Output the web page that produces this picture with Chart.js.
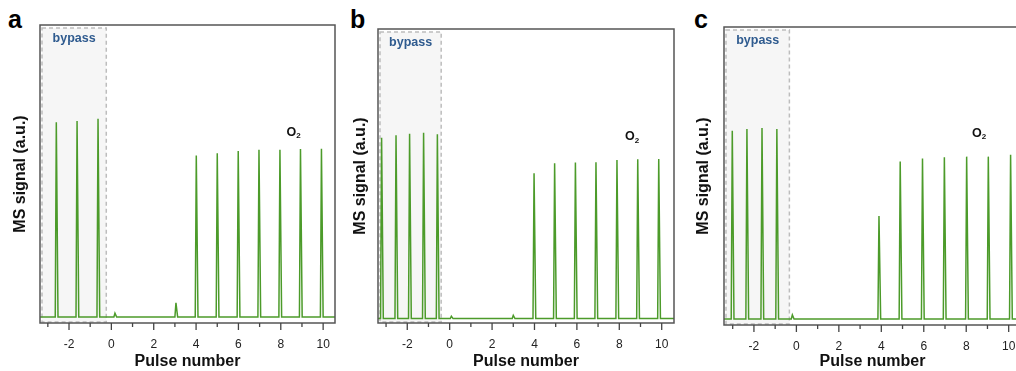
<!DOCTYPE html>
<html>
<head>
<meta charset="utf-8">
<script src="https://cdn.jsdelivr.net/npm/chart.js@4.4.0/dist/chart.umd.min.js"></script>
<style>
  html, body { margin: 0; padding: 0; background: #fff; overflow: hidden; }
  body { width: 1016px; height: 371px; position: relative; font-family: "Liberation Sans", Arial, sans-serif; }
  .panel { position: absolute; top: 0; height: 371px; }
  .letter { position: absolute; font-weight: bold; font-size: 25px; line-height: 1; color: #000; }
</style>
</head>
<body>
<div class="letter" style="left:8px;top:7px">a</div>
<div class="letter" style="left:350px;top:7px">b</div>
<div class="letter" style="left:694px;top:7px">c</div>
<div class="panel" style="left:0;width:340px"><canvas id="chartA"></canvas></div>
<div class="panel" style="left:340px;width:340px"><canvas id="chartB"></canvas></div>
<div class="panel" style="left:680px;width:350px"><canvas id="chartC"></canvas></div>
<script>
"use strict";

// pulse positions and peak heights (a.u., 0-100 of the plot height)
const peaksA = [-2.6, -1.62, -0.63, 0.17, 3.05, 4.01, 5.0, 5.99, 6.97, 7.96, 8.93, 9.92];
const heightsA = [67.4, 67.8, 68.5, 3.3, 6.8, 56.2, 57.0, 57.7, 58.1, 58.1, 58.4, 58.5];
const baselineA = 2.0;
const bypassEndA = -0.24;
const rangeA = [-3.37, 10.56];

const peaksB = [-3.21, -2.53, -1.89, -1.23, -0.58, 0.08, 3.0, 3.98, 4.95, 5.93, 6.9, 7.89, 8.87, 9.86];
const heightsB = [63.0, 63.9, 64.4, 64.7, 64.2, 2.3, 2.6, 50.9, 54.3, 54.6, 54.7, 55.4, 55.7, 55.8];
const baselineB = 1.5;
const bypassEndB = -0.4;
const rangeB = [-3.38, 10.58];

const peaksC = [-3.02, -2.33, -1.62, -0.92, -0.19, 3.89, 4.89, 5.94, 6.97, 8.02, 9.04, 10.09];
const heightsC = [65.2, 65.8, 66.1, 65.8, 3.4, 36.6, 54.9, 55.9, 56.3, 56.5, 56.5, 57.1];
const baselineC = 2.0;
const bypassEndC = -0.33;
const rangeC = [-3.41, 10.58];

const labelPosA = [8.6, 64];
const labelPosB = [8.6, 63.3];
const labelPosC = [8.6, 64.4];

const tickLabels = ["-2", "0", "2", "4", "6", "8", "10"];

// turn peak list into a trace of sharp spikes sitting on the baseline
function buildTrace(peaks, heights, base, range) {
  const pts = [{ x: range[0], y: base }];
  for (let i = 0; i < peaks.length; i++) {
    pts.push({ x: peaks[i] - 0.05, y: base });
    pts.push({ x: peaks[i], y: heights[i] });
    pts.push({ x: peaks[i] + 0.08, y: base });
  }
  pts.push({ x: range[1], y: base });
  return pts;
}

const panelPlugin = {
  id: "panelDecor",
  beforeDatasetsDraw(chart) {
    const { ctx, chartArea } = chart;
    const xs = chart.scales.x;
    const cfg = chart.options.plugins.panelDecor;
    const x1 = chartArea.left + 2;
    const x2 = xs.getPixelForValue(cfg.bypassEnd);
    const y1 = chartArea.top + 3;
    const y2 = chartArea.bottom - 1;
    ctx.save();
    ctx.fillStyle = "#f6f6f6";
    ctx.fillRect(x1, y1, x2 - x1, y2 - y1);
    ctx.setLineDash([4, 3]);
    ctx.strokeStyle = "#bdbdbd";
    ctx.lineWidth = 1.5;
    ctx.strokeRect(x1, y1, x2 - x1, y2 - y1);
    ctx.setLineDash([]);
    ctx.fillStyle = "#2f5b8f";
    ctx.font = "bold 12.5px 'Liberation Sans', Arial, sans-serif";
    ctx.textAlign = "center";
    ctx.textBaseline = "middle";
    ctx.fillText("bypass", (x1 + x2) / 2, chartArea.top + 14);
    ctx.restore();
  },
  afterDraw(chart) {
    const { ctx, chartArea } = chart;
    const xs = chart.scales.x;
    const ys = chart.scales.y;
    const cfg = chart.options.plugins.panelDecor;
    ctx.save();
    // frame
    ctx.strokeStyle = "#555";
    ctx.lineWidth = 1.5;
    ctx.strokeRect(chartArea.left, chartArea.top, chartArea.right - chartArea.left, chartArea.bottom - chartArea.top);
    // tick marks, long on even pulses
    ctx.lineWidth = 1.3;
    ctx.strokeStyle = "#444";
    for (const t of xs.ticks) {
      const px = xs.getPixelForValue(t.value);
      const len = t.value % 2 === 0 ? 7 : 4;
      ctx.beginPath();
      ctx.moveTo(px, chartArea.bottom);
      ctx.lineTo(px, chartArea.bottom + len);
      ctx.stroke();
    }
    // O2 label
    const lx = xs.getPixelForValue(cfg.label[0]);
    const ly = ys.getPixelForValue(cfg.label[1]);
    ctx.fillStyle = "#111";
    ctx.textBaseline = "middle";
    ctx.textAlign = "left";
    ctx.font = "bold 12.5px 'Liberation Sans', Arial, sans-serif";
    ctx.fillText("O", lx - 7, ly);
    const w = ctx.measureText("O").width;
    ctx.font = "bold 8px 'Liberation Sans', Arial, sans-serif";
    ctx.fillText("2", lx - 7 + w, ly + 3.5);
    ctx.restore();
  }
};

function makeChart(id, peaks, heights, base, range, bypassEnd, label, pad) {
  const ctx = document.getElementById(id).getContext("2d");
  return new Chart(ctx, {
    type: "line",
    data: {
      datasets: [
        {
          data: buildTrace(peaks, heights, base, range),
          borderColor: "#4c9b2a",
          borderWidth: 1.5,
          pointRadius: 0,
          tension: 0,
          fill: false,
        },
      ],
    },
    options: {
      responsive: true,
      maintainAspectRatio: false,
      animation: false,
      layout: { padding: { top: pad.top, right: pad.right, left: 0, bottom: 0 } },
      plugins: {
        legend: { display: false },
        tooltip: { enabled: false },
        panelDecor: { bypassEnd: bypassEnd, label: label },
      },
      scales: {
        x: {
          type: "linear",
          min: range[0],
          max: range[1],
          afterBuildTicks: (scale) => {
            const t = [];
            for (let v = Math.ceil(range[0]); v <= Math.floor(range[1]); v++) t.push({ value: v });
            scale.ticks = t;
          },
          afterFit: (scale) => { scale.height = pad.bottom; },
          grid: { display: false },
          border: { display: false },
          ticks: {
            autoSkip: false,
            maxRotation: 0,
            padding: 6,
            color: "#222",
            font: { size: 12, family: "'Liberation Sans', Arial, sans-serif" },
            callback: (v) => (v % 2 === 0 ? tickLabels[(v + 2) / 2] : ""),
          },
          title: {
            display: true,
            text: "Pulse number",
            color: "#111",
            font: { size: 16, weight: "bold", family: "'Liberation Sans', Arial, sans-serif" },
            padding: { top: 0, bottom: 0 },
          },
        },
        y: {
          min: 0,
          max: 100,
          afterFit: (scale) => { scale.width = pad.left; },
          grid: { display: false },
          border: { display: false },
          ticks: { display: false },
          title: {
            display: true,
            text: "MS signal (a.u.)",
            color: "#111",
            font: { size: 16, weight: "bold", family: "'Liberation Sans', Arial, sans-serif" },
            padding: { top: pad.titleLeft, bottom: 0 },
          },
        },
      },
    },
    plugins: [panelPlugin],
  });
}

makeChart("chartA", peaksA, heightsA, baselineA, rangeA, bypassEndA, labelPosA,
  { top: 25, right: 5, bottom: 48, left: 40, titleLeft: 11 });
makeChart("chartB", peaksB, heightsB, baselineB, rangeB, bypassEndB, labelPosB,
  { top: 29, right: 6, bottom: 48, left: 38, titleLeft: 11 });
makeChart("chartC", peaksC, heightsC, baselineC, rangeC, bypassEndC, labelPosC,
  { top: 27, right: 9, bottom: 46, left: 44, titleLeft: 14 });
</script>
</body>
</html>
